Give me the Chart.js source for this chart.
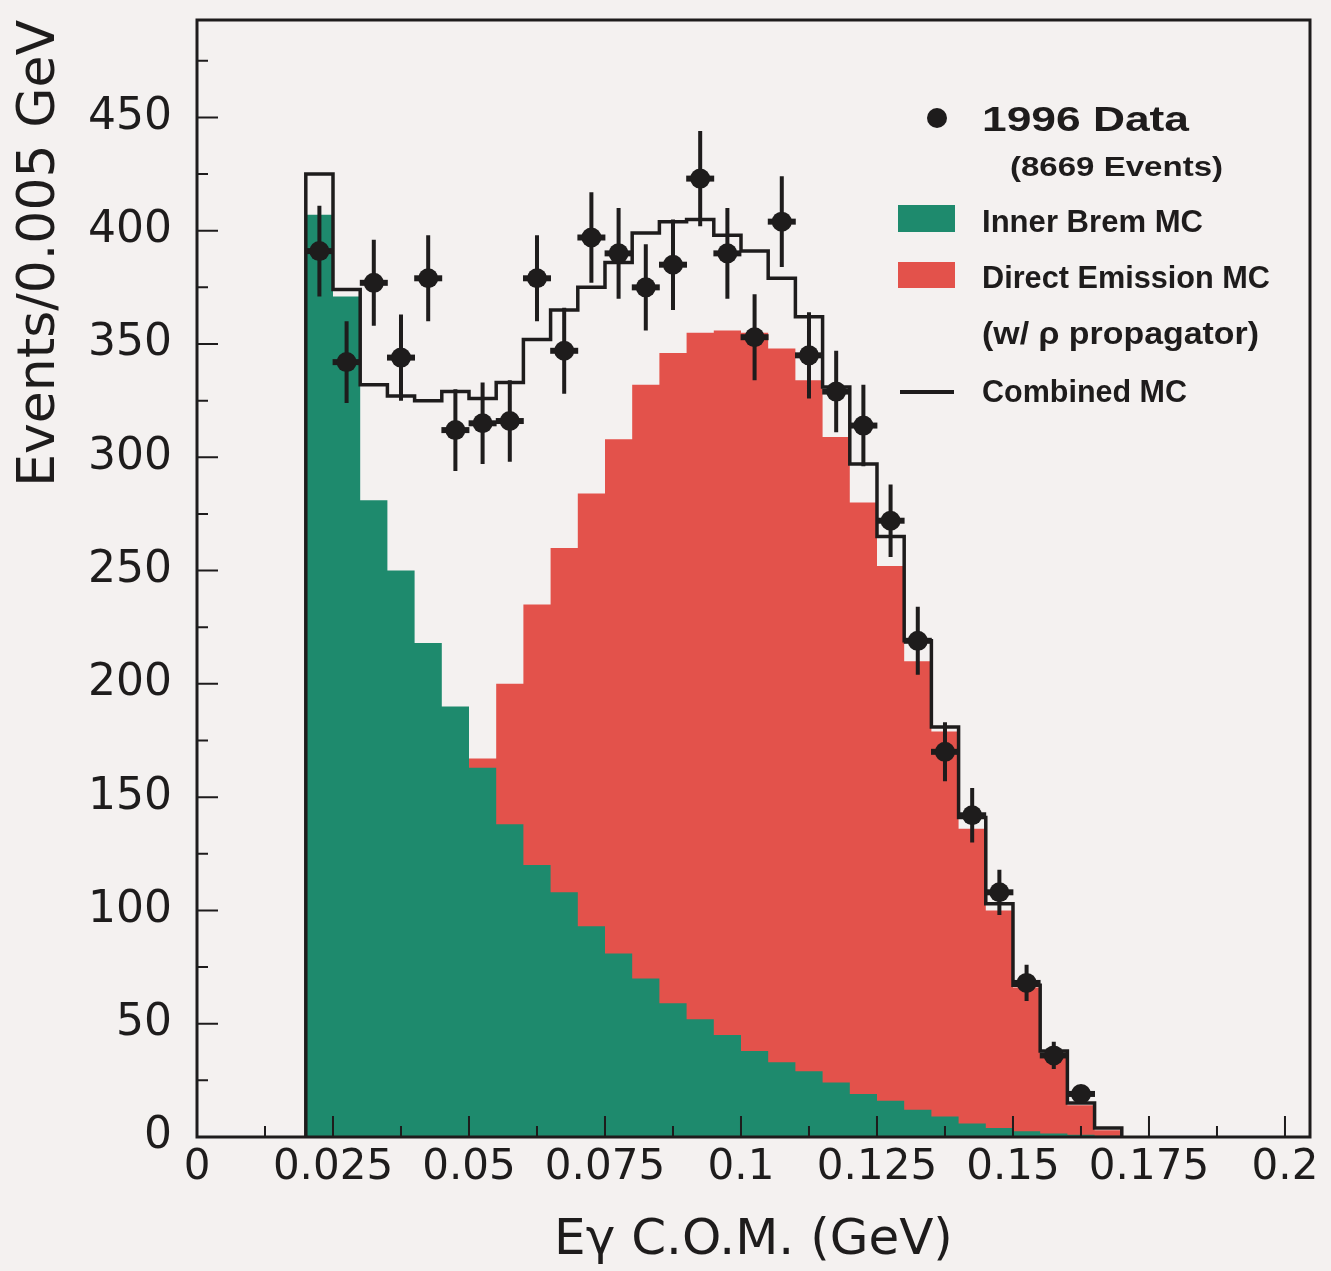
<!DOCTYPE html>
<html>
<head>
<meta charset="utf-8">
<script src="https://cdn.jsdelivr.net/npm/chart.js@4.4.1/dist/chart.umd.min.js"></script>
<style>
  html, body { margin: 0; padding: 0; background: #f4f1f0; }
  canvas { display: block; }
</style>
</head>
<body>
<canvas id="c" width="1331" height="1271"></canvas>
<script>
// ---------------- data ----------------
const binEdges = [0.020, 0.025, 0.030, 0.035, 0.040, 0.045, 0.050, 0.055, 0.060, 0.065,
                  0.070, 0.075, 0.080, 0.085, 0.090, 0.095, 0.100, 0.105, 0.110, 0.115,
                  0.120, 0.125, 0.130, 0.135, 0.140, 0.145, 0.150, 0.155, 0.160, 0.165, 0.170];

const innerBremMC = [407, 371, 281, 250, 218, 190, 163, 138, 120, 108,
                     93, 81, 70, 59, 52, 45, 38, 33, 29, 24,
                     19, 16, 12, 9, 6, 4, 2.5, 1.5, 1, 0.5];

const directEmissionMC = [18, 4, 51, 77, 107, 139, 167, 200, 235, 260,
                          284, 308, 332, 346, 355, 356, 355, 348, 334, 309,
                          280, 252, 210, 179, 136, 100, 66, 37, 14, 3];

const combinedMC = [425, 374, 332, 327, 325, 329, 326, 333, 352, 365,
                    375, 386, 399, 404, 405, 398, 391, 379, 362, 331,
                    297, 265, 219, 181, 141, 103, 67, 38, 15, 4];

const data1996 = [391, 342, 377, 344, 379, 312, 315, 316, 379, 347,
                  397, 390, 375, 385, 423, 390, 353, 404, 345, 329,
                  314, 272, 219, 170, 142, 108, 68, 36, 19, null];

const data1996Err = [20, 18, 19, 19, 19, 18, 18, 18, 19, 19,
                     20, 20, 19, 20, 21, 20, 19, 20, 19, 18,
                     18, 16, 15, 13, 12, 10, 8, 6, 4, null];

const xTickValues = [0, 0.025, 0.05, 0.075, 0.1, 0.125, 0.15, 0.175, 0.2];
const xTickLabels = ['0', '0.025', '0.05', '0.075', '0.1', '0.125', '0.15', '0.175', '0.2'];
const xMinorTicks = [0.0125, 0.0375, 0.0625, 0.0875, 0.1125, 0.1375, 0.1625, 0.1875];
const yTickValues = [0, 50, 100, 150, 200, 250, 300, 350, 400, 450];
const yTickLabels = ['0', '50', '100', '150', '200', '250', '300', '350', '400', '450'];
const yMinorTicks = [25, 75, 125, 175, 225, 275, 325, 375, 425, 475];

const legendTexts = {
  data: '1996 Data',
  events: '(8669 Events)',
  ib: 'Inner Brem MC',
  de: 'Direct Emission MC',
  de2: '(w/ \u03C1 propagator)',
  comb: 'Combined MC'
};

// ---------------- helpers building library points ----------------
function histPoints(values) {
  const pts = [{ x: binEdges[0], y: 0 }];
  values.forEach((v, i) => pts.push({ x: binEdges[i], y: v }));
  pts.push({ x: binEdges[values.length], y: 0 });
  return pts;
}
const binCenters = binEdges.slice(0, -1).map((e, i) => (e + binEdges[i + 1]) / 2);
const dataPoints = [];
const errPoints = [];
data1996.forEach((v, i) => {
  if (v === null) return;
  dataPoints.push({ x: binCenters[i], y: v });
  errPoints.push({ x: binCenters[i], y: v - data1996Err[i] });
  errPoints.push({ x: binCenters[i], y: v + data1996Err[i] });
  errPoints.push({ x: binCenters[i], y: null });
});

const INK = '#1e1c1c';
const GREEN = '#1e8a6d';
const RED = '#e3524b';

// ---------------- plugins ----------------
const framePlugin = {
  id: 'frameTicks',
  afterDatasetsDraw(chart) {
    const { ctx, chartArea: a, scales: { x, y } } = chart;
    ctx.save();
    ctx.strokeStyle = INK;
    ctx.lineWidth = 2;
    ctx.beginPath();
    xTickValues.forEach(v => { const p = x.getPixelForValue(v); ctx.moveTo(p, a.bottom); ctx.lineTo(p, a.bottom - 21); });
    xMinorTicks.forEach(v => { const p = x.getPixelForValue(v); ctx.moveTo(p, a.bottom); ctx.lineTo(p, a.bottom - 11); });
    yTickValues.forEach(v => { const p = y.getPixelForValue(v); ctx.moveTo(a.left, p); ctx.lineTo(a.left + 21, p); });
    yMinorTicks.forEach(v => { const p = y.getPixelForValue(v); ctx.moveTo(a.left, p); ctx.lineTo(a.left + 11, p); });
    ctx.stroke();
    ctx.lineWidth = 3;
    ctx.strokeRect(a.left, a.top, a.right - a.left, a.bottom - a.top);
    ctx.restore();
  }
};

function stretchText(ctx, text, x, baseline, font, width) {
  ctx.font = font;
  const w = ctx.measureText(text).width;
  ctx.save();
  ctx.translate(x, baseline);
  ctx.scale(width / w, 1);
  ctx.textBaseline = 'alphabetic';
  ctx.textAlign = 'left';
  ctx.fillText(text, 0, 0);
  ctx.restore();
}

const legendPlugin = {
  id: 'customLegend',
  afterDraw(chart) {
    const ctx = chart.ctx;
    ctx.save();
    ctx.fillStyle = INK;
    ctx.beginPath();
    ctx.arc(937, 118, 10, 0, Math.PI * 2);
    ctx.fill();
    const F = 'bold {s}px "Liberation Sans", Arial, sans-serif';
    stretchText(ctx, legendTexts.data, 982, 131, F.replace('{s}', 35), 207);
    stretchText(ctx, legendTexts.events, 1010, 176, F.replace('{s}', 28), 213);
    ctx.fillStyle = GREEN;
    ctx.fillRect(898, 205, 57, 27);
    ctx.fillStyle = RED;
    ctx.fillRect(898, 262, 57, 26);
    ctx.fillStyle = INK;
    stretchText(ctx, legendTexts.ib, 982, 232, F.replace('{s}', 32), 221);
    stretchText(ctx, legendTexts.de, 982, 288, F.replace('{s}', 32), 288);
    stretchText(ctx, legendTexts.de2, 982, 344, F.replace('{s}', 32), 277);
    stretchText(ctx, legendTexts.comb, 982, 402, F.replace('{s}', 32), 205);
    ctx.strokeStyle = INK;
    ctx.lineWidth = 4;
    ctx.beginPath();
    ctx.moveTo(900, 392);
    ctx.lineTo(954, 392);
    ctx.stroke();
    ctx.restore();
  }
};

// ---------------- chart ----------------
new Chart(document.getElementById('c'), {
  type: 'line',
  data: {
    datasets: [
      { label: legendTexts.data, data: dataPoints, showLine: false, pointStyle: 'circle', pointRadius: 10,
        pointBackgroundColor: INK, pointBorderColor: INK, pointBorderWidth: 0 },
      { label: 'wings', data: dataPoints, showLine: false, pointStyle: 'line', pointRadius: 14,
        pointBorderColor: INK, pointBorderWidth: 6 },
      { label: 'errors', data: errPoints, spanGaps: false, borderColor: INK, borderWidth: 4,
        pointRadius: 0, fill: false },
      { label: legendTexts.comb, data: histPoints(combinedMC), stepped: 'before', borderColor: INK,
        borderWidth: 3.5, pointRadius: 0, fill: false },
      { label: legendTexts.ib, data: histPoints(innerBremMC), stepped: 'before', borderWidth: 0,
        borderColor: 'rgba(0,0,0,0)', backgroundColor: GREEN, pointRadius: 0, fill: 'origin' },
      { label: legendTexts.de, data: histPoints(directEmissionMC), stepped: 'before', borderWidth: 0,
        borderColor: 'rgba(0,0,0,0)', backgroundColor: RED, pointRadius: 0, fill: 'origin' }
    ]
  },
  options: {
    responsive: false,
    animation: false,
    events: [],
    layout: { padding: { top: 16, right: 21, left: 0, bottom: 0 } },
    plugins: { legend: { display: false }, tooltip: { enabled: false } },
    scales: {
      x: {
        type: 'linear', min: 0, max: 0.2046, position: 'bottom',
        afterBuildTicks: s => { s.ticks = xTickValues.map(v => ({ value: v })); },
        afterFit: s => { s.height = 134; s.paddingLeft = 0; s.paddingRight = 0; },
        grid: { display: false, drawTicks: false },
        border: { display: false },
        ticks: {
          callback: (v, i) => xTickLabels[i],
          font: { family: '"DejaVu Sans"', size: 42 }, color: INK, padding: 6,
          maxRotation: 0, minRotation: 0, autoSkip: false
        },
        title: { display: true, text: 'E\u03B3 C.O.M. (GeV)', color: INK,
          font: { family: '"DejaVu Sans"', size: 50, lineHeight: 1 }, padding: { top: 0, bottom: 5 } }
      },
      y: {
        type: 'linear', min: 0, max: 493, position: 'left',
        afterBuildTicks: s => { s.ticks = yTickValues.map(v => ({ value: v })); },
        afterFit: s => { s.width = 197; s.paddingTop = 0; s.paddingBottom = 0; },
        grid: { display: false, drawTicks: false },
        border: { display: false },
        ticks: {
          callback: (v, i) => yTickLabels[i],
          font: { family: '"DejaVu Sans"', size: 44 }, color: INK, padding: 25, autoSkip: false
        },
        title: { display: true, text: 'Events/0.005 GeV', align: 'end', color: INK,
          font: { family: '"DejaVu Sans"', size: 52, lineHeight: 1 }, padding: { top: 14, bottom: 0 } }
      }
    }
  },
  plugins: [framePlugin, legendPlugin]
});
</script>
</body>
</html>
